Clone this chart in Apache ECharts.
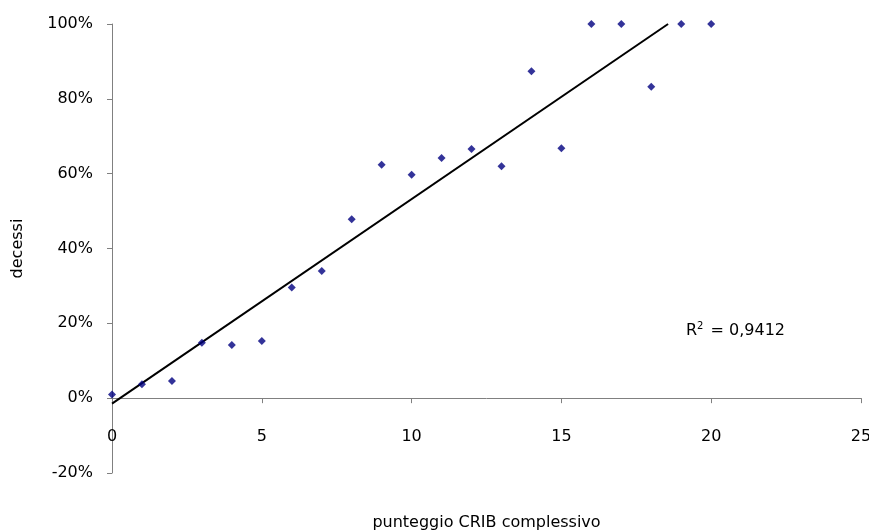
<!DOCTYPE html>
<html>
<head>
<meta charset="utf-8">
<script src="https://cdn.jsdelivr.net/npm/echarts@6/dist/echarts.min.js"></script>
<style>
  html, body { margin: 0; padding: 0; background: #fff; }
  #chart { width: 869px; height: 531px; }
</style>
</head>
<body>
<div id="chart"></div>
<script>
// CRIB total score vs. mortality rate
const scores = [0, 1, 2, 3, 4, 5, 6, 7, 8, 9, 10, 11, 12, 13, 14, 15, 16, 17, 18, 19, 20];
const deathRate = [0.010, 0.037, 0.046, 0.148, 0.142, 0.153, 0.296, 0.340, 0.478, 0.624, 0.597,
                   0.642, 0.666, 0.620, 0.874, 0.668, 1.000, 1.000, 0.832, 1.000, 1.000];
const yTicks = [-0.2, 0, 0.2, 0.4, 0.6, 0.8, 1.0];
const xTicks = [0, 5, 10, 15, 20, 25];
const rSquaredText = '0,9412';

// least-squares linear trend
const n = scores.length;
const mx = scores.reduce((a, b) => a + b, 0) / n;
const my = deathRate.reduce((a, b) => a + b, 0) / n;
let sxy = 0, sxx = 0;
for (let i = 0; i < n; i++) {
  sxy += (scores[i] - mx) * (deathRate[i] - my);
  sxx += (scores[i] - mx) * (scores[i] - mx);
}
const slope = sxy / sxx;
const intercept = my - slope * mx;
const yMax = yTicks[yTicks.length - 1];
const trend = [[0, intercept], [(yMax - intercept) / slope, yMax]];

const font = "'Comic Sans MS', 'DejaVu Sans', sans-serif";
const axisGray = '#808080';

const chart = echarts.init(document.getElementById('chart'));
chart.setOption({
  animation: false,
  grid: { left: 112, right: 8, top: 24, bottom: 58, containLabel: false, outerBoundsMode: 'none' },
  xAxis: {
    type: 'value',
    min: xTicks[0], max: xTicks[xTicks.length - 1], interval: 5,
    name: 'punteggio CRIB complessivo',
    nameLocation: 'middle', nameGap: 42,
    nameTextStyle: { fontFamily: font, fontSize: 16, color: '#000' },
    axisLine: { show: true, onZero: true, lineStyle: { color: axisGray, width: 1 } },
    axisTick: { show: true, length: 5, lineStyle: { color: axisGray } },
    // labels sit below the zero line, above the lower end of the value axis
    axisLabel: { fontFamily: font, fontSize: 16, color: '#000', margin: -44 },
    splitLine: { show: false }
  },
  yAxis: {
    type: 'value',
    min: yTicks[0], max: yMax, interval: 0.2,
    name: 'decessi',
    nameLocation: 'middle', nameGap: 86,
    nameTextStyle: { fontFamily: font, fontSize: 16, color: '#000' },
    axisLine: { show: true, onZero: false, lineStyle: { color: axisGray, width: 1 } },
    axisTick: { show: true, length: 5, lineStyle: { color: axisGray } },
    axisLabel: {
      fontFamily: font, fontSize: 16, color: '#000', margin: 19,
      formatter: v => Math.round(v * 100) + '%'
    },
    splitLine: { show: false }
  },
  series: [
    {
      type: 'line',
      data: trend,
      showSymbol: false,
      lineStyle: { color: '#000', width: 2 },
      silent: true,
      z: 2
    },
    {
      type: 'scatter',
      data: scores.map((x, i) => [x, deathRate[i]]),
      symbol: 'diamond',
      symbolSize: 8,
      itemStyle: { color: '#000080' },
      z: 3
    }
  ],
  graphic: [
    {
      type: 'text',
      left: 686, top: 321,
      style: {
        text: '{r|R}{s|2}{r| = ' + rSquaredText + '}',
        rich: {
          r: { fontFamily: font, fontSize: 16, fill: '#000', verticalAlign: 'bottom' },
          s: { fontFamily: font, fontSize: 10, fill: '#000', verticalAlign: 'top', padding: [0, 2, 8, 0] }
        }
      }
    }
  ]
});
</script>
</body>
</html>
